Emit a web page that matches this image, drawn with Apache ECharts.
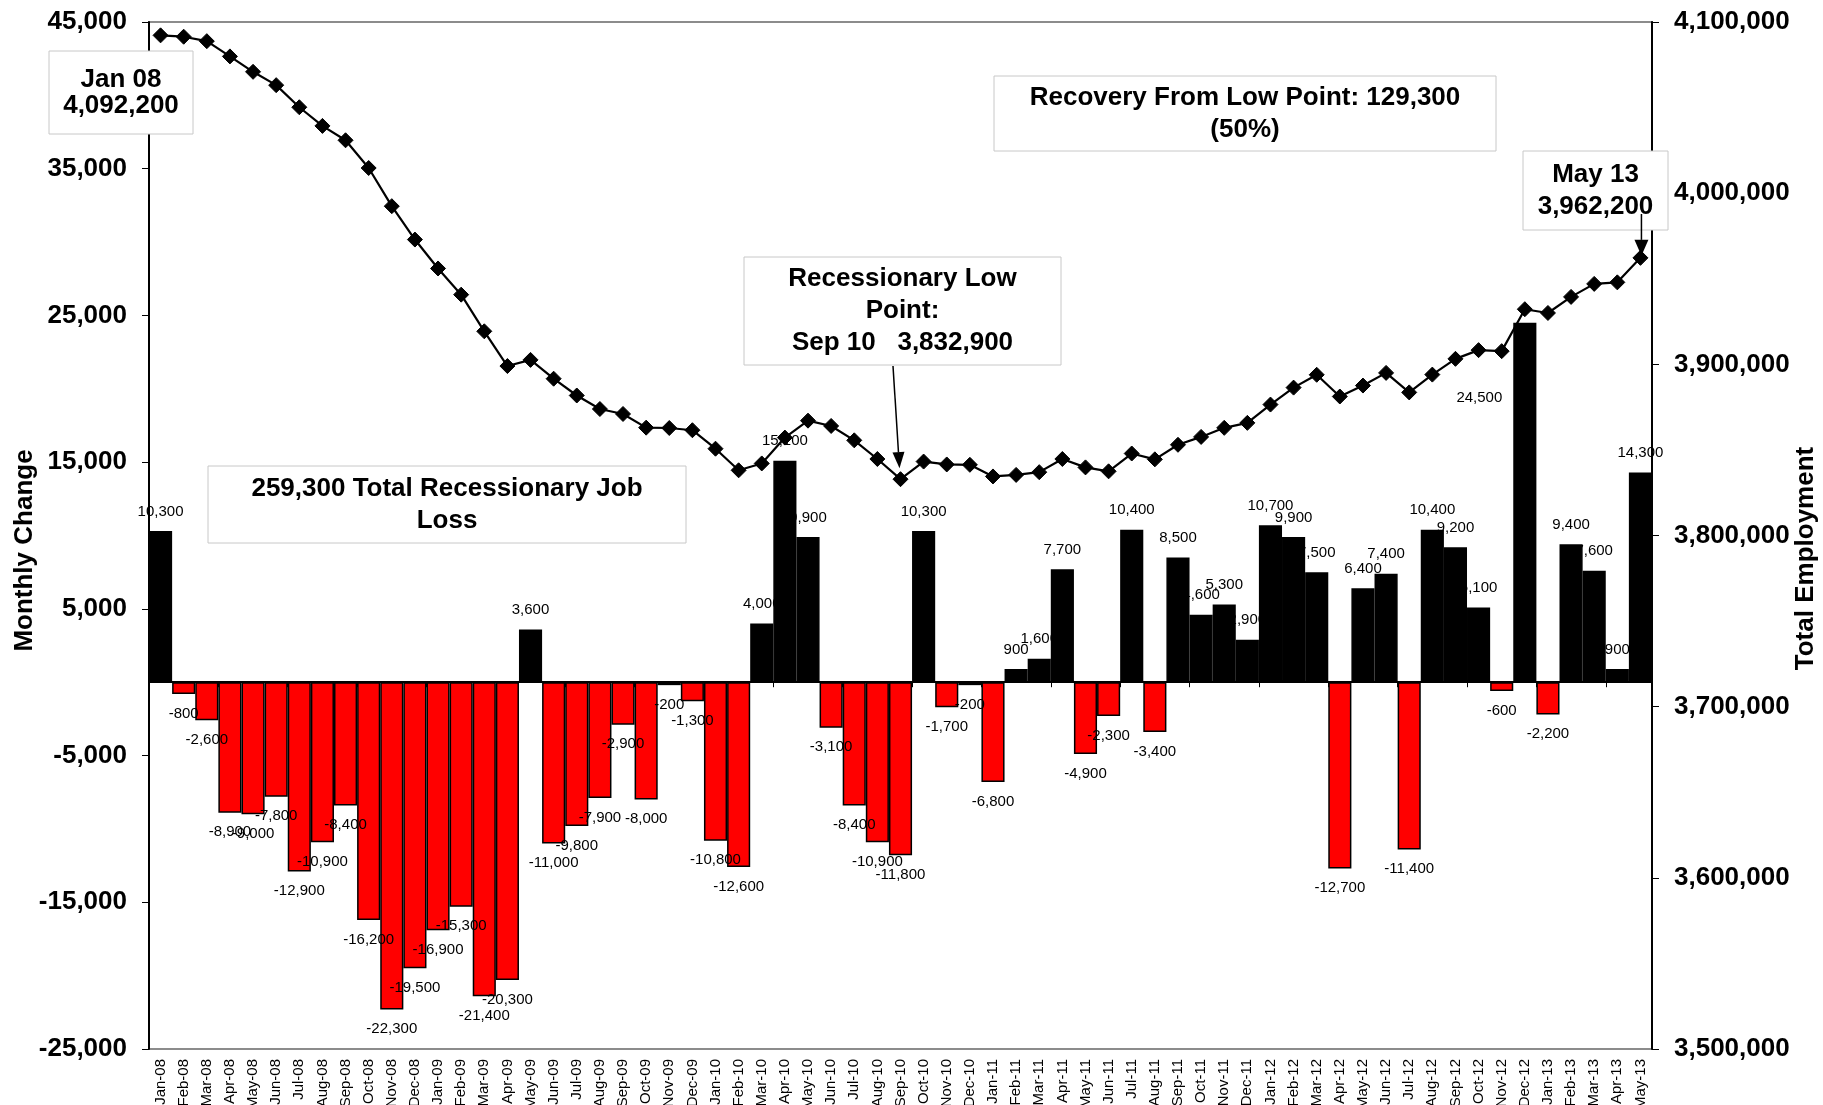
<!DOCTYPE html>
<html><head><meta charset="utf-8">
<script src="https://cdn.jsdelivr.net/npm/echarts@6/dist/echarts.min.js"></script>
<style>html,body{margin:0;padding:0;background:#fff}#c{width:1823px;height:1105px}</style>
</head><body><div id="c"></div>
<script>
const months = ['Jan-08','Feb-08','Mar-08','Apr-08','May-08','Jun-08','Jul-08','Aug-08','Sep-08','Oct-08','Nov-08','Dec-08',
 'Jan-09','Feb-09','Mar-09','Apr-09','May-09','Jun-09','Jul-09','Aug-09','Sep-09','Oct-09','Nov-09','Dec-09',
 'Jan-10','Feb-10','Mar-10','Apr-10','May-10','Jun-10','Jul-10','Aug-10','Sep-10','Oct-10','Nov-10','Dec-10',
 'Jan-11','Feb-11','Mar-11','Apr-11','May-11','Jun-11','Jul-11','Aug-11','Sep-11','Oct-11','Nov-11','Dec-11',
 'Jan-12','Feb-12','Mar-12','Apr-12','May-12','Jun-12','Jul-12','Aug-12','Sep-12','Oct-12','Nov-12','Dec-12',
 'Jan-13','Feb-13','Mar-13','Apr-13','May-13'];
const monthlyChange = [10300,-800,-2600,-8900,-9000,-7800,-12900,-10900,-8400,-16200,-22300,-19500,
 -16900,-15300,-21400,-20300,3600,-11000,-9800,-7900,-2900,-8000,-200,-1300,
 -10800,-12600,4000,15100,9900,-3100,-8400,-10900,-11800,10300,-1700,-200,
 -6800,900,1600,7700,-4900,-2300,10400,-3400,8500,4600,5300,2900,
 10700,9900,7500,-12700,6400,7400,-11400,10400,9200,5100,-600,24500,
 -2200,9400,7600,900,14300];
const totalEmployment = [4092200,4091400,4088800,4079900,4070900,4063100,4050200,4039300,4030900,4014700,3992400,3972900,
 3956000,3940700,3919300,3899000,3902600,3891600,3881800,3873900,3871000,3863000,3862800,3861500,
 3850700,3838100,3842100,3857200,3867100,3864000,3855600,3844700,3832900,3843200,3841500,3841300,
 3834500,3835400,3837000,3844700,3839800,3837500,3847900,3844500,3853000,3857600,3862900,3865800,
 3876500,3886400,3893900,3881200,3887600,3895000,3883600,3894000,3903200,3908300,3907700,3932200,
 3930000,3939400,3947000,3947900,3962200];
const leftTicks = [-25000,-15000,-5000,5000,15000,25000,35000,45000];
const rightTicks = [3500000,3600000,3700000,3800000,3900000,4000000,4100000];

const FONT = '"Liberation Sans", Arial, Helvetica, sans-serif';
const fmt = v => Number(v).toLocaleString('en-US');

const barData = monthlyChange.map((v, i) => {
  const item = { value: v };
  if (months[i] === 'Dec-12') {
    item.label = { position: 'left', distance: 11, offset: [0, -105] };
  }
  return item;
});

const chart = echarts.init(document.getElementById('c'), null, { renderer: 'canvas' });
chart.setOption({
  animation: false,
  backgroundColor: '#ffffff',
  textStyle: { fontFamily: FONT },
  grid: { left: 149, right: 171, top: 22, bottom: 56, containLabel: false, outerBoundsMode: 'none',
    show: true, borderColor: '#8c8c8c', borderWidth: 2, backgroundColor: 'transparent' },
  xAxis: [
    { type: 'category', data: months, position: 'bottom', gridIndex: 0,
      axisLine: { show: false, onZero: false }, axisTick: { show: false },
      axisLabel: { interval: 0, rotate: 90, margin: 10, fontSize: 15, color: '#000', fontFamily: FONT },
      splitLine: { show: false } },
    { type: 'category', data: months, position: 'top', gridIndex: 0,
      axisLine: { show: true, onZero: true, onZeroAxisIndex: 0, lineStyle: { color: '#000', width: 2 } },
      axisTick: { show: true, inside: true, length: 5, lineStyle: { color: '#000', width: 1 } },
      axisLabel: { show: false }, splitLine: { show: false } }
  ],
  yAxis: [
    { type: 'value', position: 'left', min: leftTicks[0], max: leftTicks[leftTicks.length - 1], interval: leftTicks[1] - leftTicks[0],
      axisLine: { show: true, lineStyle: { color: '#000', width: 2 } },
      axisTick: { show: true, length: 7, lineStyle: { color: '#000', width: 1 } },
      axisLabel: { margin: 22, fontSize: 26, fontWeight: 'bold', color: '#000', fontFamily: FONT, formatter: fmt },
      splitLine: { show: false },
      name: 'Monthly Change', nameLocation: 'middle', nameRotate: 90, nameGap: 111, nameMoveOverlap: false,
      nameTextStyle: { fontSize: 26, fontWeight: 'bold', color: '#000', fontFamily: FONT, padding: [0, 30, 0, 0] } },
    { type: 'value', position: 'right', min: rightTicks[0], max: rightTicks[rightTicks.length - 1], interval: rightTicks[1] - rightTicks[0],
      axisLine: { show: true, lineStyle: { color: '#000', width: 2 } },
      axisTick: { show: true, length: 7, lineStyle: { color: '#000', width: 1 } },
      axisLabel: { margin: 22, fontSize: 26, fontWeight: 'bold', color: '#000', fontFamily: FONT, formatter: fmt },
      splitLine: { show: false },
      name: 'Total Employment', nameLocation: 'middle', nameRotate: 90, nameGap: 141, nameMoveOverlap: false,
      nameTextStyle: { fontSize: 26, fontWeight: 'bold', color: '#000', fontFamily: FONT, padding: [0, 46, 0, 0] } }
  ],
  series: [
    { type: 'bar', name: 'Monthly Change', xAxisIndex: 0, yAxisIndex: 0, data: barData,
      barCategoryGap: '0%', z: 2,
      itemStyle: { color: p => (p.value >= 0 ? '#000000' : '#ff0000'), borderColor: '#000', borderWidth: 1.5 },
      label: { show: true, position: 'outside', distance: 12, fontSize: 15, color: '#000', fontFamily: FONT,
        formatter: p => fmt(p.value) } },
    { type: 'line', name: 'Total Employment', xAxisIndex: 0, yAxisIndex: 1, data: totalEmployment, z: 5,
      symbol: 'diamond', symbolSize: 15, showSymbol: true,
      lineStyle: { color: '#000', width: 2.2 }, itemStyle: { color: '#000', borderColor: '#000' } }
  ]
});

function box(x, y, w, h, text, lh) {
  return { type: 'group', x, y, z: 100, children: [
    { type: 'rect', shape: { x: 0, y: 0, width: w, height: h }, style: { fill: '#fff', stroke: '#c8c8c8', lineWidth: 1 }, z: 100 },
    { type: 'text', x: w / 2, y: h / 2, z: 101, style: { text, font: 'bold 26px ' + FONT, fill: '#000', align: 'center', verticalAlign: 'middle', lineHeight: lh } }
  ] };
}
function arrow(x1, y1, tx, ty, headLen, headW) {
  const dx = tx - x1, dy = ty - y1, L = Math.hypot(dx, dy);
  const ux = dx / L, uy = dy / L;
  const bx = tx - ux * headLen, by = ty - uy * headLen;
  const px = -uy * headW / 2, py = ux * headW / 2;
  return [
    { type: 'line', z: 102, shape: { x1, y1, x2: bx, y2: by }, style: { stroke: '#000', lineWidth: 1.5 } },
    { type: 'polygon', z: 102, shape: { points: [[tx, ty], [bx + px, by + py], [bx - px, by - py]] }, style: { fill: '#000' } }
  ];
}
const iLow = months.indexOf('Sep-10');
const iLast = months.length - 1;
const pLow = chart.convertToPixel({ seriesIndex: 1 }, [iLow, totalEmployment[iLow]]);
const pLast = chart.convertToPixel({ seriesIndex: 1 }, [iLast, totalEmployment[iLast]]);

chart.setOption({
  graphic: [
    box(49, 51, 144, 83, 'Jan 08\n' + fmt(totalEmployment[0]), 26),
    box(208, 466, 478, 77, '259,300 Total Recessionary Job\nLoss', 32),
    box(744, 257, 317, 108, 'Recessionary Low\nPoint:\nSep 10   ' + fmt(totalEmployment[iLow]), 32),
    box(994, 76, 502, 75, 'Recovery From Low Point: 129,300\n(50%)', 32),
    box(1523, 151, 145, 79, 'May 13\n' + fmt(totalEmployment[iLast]), 32),
    ...arrow(893, 366, pLow[0] - 1, pLow[1] - 11, 16, 12),
    ...arrow(pLast[0] + 1, 214, pLast[0] + 1, pLast[1] - 2, 16, 14)
  ]
});
</script></body></html>
